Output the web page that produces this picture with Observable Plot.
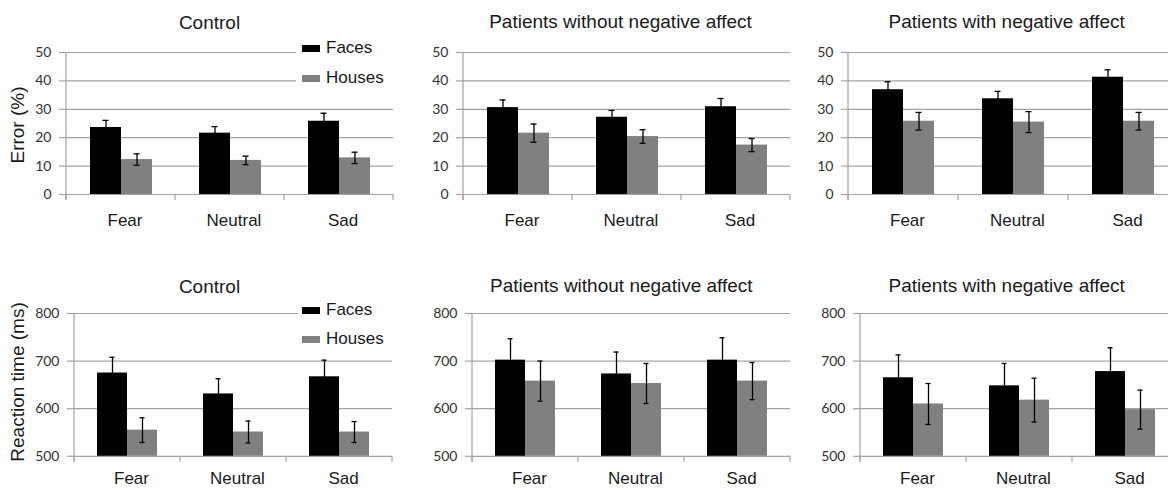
<!DOCTYPE html>
<html><head><meta charset="utf-8">
<script src="https://cdn.jsdelivr.net/npm/d3@7"></script>
<script src="https://cdn.jsdelivr.net/npm/@observablehq/plot@0.6"></script>
<style>
html,body{margin:0;padding:0;background:#fff;}
#fig{position:relative;width:1168px;height:488px;overflow:hidden;font-family:"Liberation Sans",Arial,sans-serif;color:#1a1a1a;background:#fff;}
.t{position:absolute;white-space:nowrap;line-height:1;}
.panel{position:absolute;}
.sw{position:absolute;}
</style></head><body><div id="fig"></div>
<script>
// ---- data ----
const categories = ["Fear", "Neutral", "Sad"];
const stimuli = ["Faces", "Houses"];
const groupTitles = ["Control", "Patients without negative affect", "Patients with negative affect"];
const errorTicks = [0, 10, 20, 30, 40, 50];
const rtTicks = [500, 600, 700, 800];
const errorLabel = "Error (%)";
const rtLabel = "Reaction time (ms)";

// Error rate (%) — means and standard errors
const errControlFaces = [23.6, 21.6, 25.8];
const errControlFacesSE = [2.5, 2.3, 2.8];
const errControlHouses = [12.3, 12.0, 12.9];
const errControlHousesSE = [2.0, 1.5, 2.0];
const errWithoutFaces = [30.6, 27.2, 30.9];
const errWithoutFacesSE = [2.7, 2.4, 2.9];
const errWithoutHouses = [21.6, 20.4, 17.4];
const errWithoutHousesSE = [3.2, 2.4, 2.3];
const errWithFaces = [36.9, 33.7, 41.3];
const errWithFacesSE = [2.8, 2.6, 2.6];
const errWithHouses = [25.8, 25.5, 25.8];
const errWithHousesSE = [3.1, 3.7, 3.1];

// Reaction time (ms) — means and standard errors
const rtControlFaces = [675, 631, 667];
const rtControlFacesSE = [33, 32, 35];
const rtControlHouses = [555, 551, 551];
const rtControlHousesSE = [26, 23, 22];
const rtWithoutFaces = [702, 673, 702];
const rtWithoutFacesSE = [45, 46, 47];
const rtWithoutHouses = [658, 653, 658];
const rtWithoutHousesSE = [42, 42, 39];
const rtWithFaces = [665, 648, 678];
const rtWithFacesSE = [48, 47, 50];
const rtWithHouses = [610, 618, 598];
const rtWithHousesSE = [43, 46, 41];

// ---- build ----
function rows(faces, facesSE, houses, housesSE) {
  const out = [];
  categories.forEach((c, i) => {
    out.push({cat: c, stim: stimuli[0], v: faces[i], e: facesSE[i]});
    out.push({cat: c, stim: stimuli[1], v: houses[i], e: housesSE[i]});
  });
  return out;
}
const panels = [
  {title: groupTitles[0], ticks: errorTicks, data: rows(errControlFaces, errControlFacesSE, errControlHouses, errControlHousesSE), ax: 65, right: 393, top: 52, bottom: 194, mB: 40, pad: 19, titleX: 209.5, titleY: 29.3, ylabel: errorLabel, ylabelY: 125, legend: {box: [296, 41, 100, 46], sw1: 44.5, t1: 53.5, sw2: 74.5, t2: 83.5}},
  {title: groupTitles[1], ticks: errorTicks, data: rows(errWithoutFaces, errWithoutFacesSE, errWithoutHouses, errWithoutHousesSE), ax: 462, right: 791, top: 52, bottom: 194, mB: 40, pad: 19, titleX: 620.5, titleY: 28.3},
  {title: groupTitles[2], ticks: errorTicks, data: rows(errWithFaces, errWithFacesSE, errWithHouses, errWithHousesSE), ax: 848, right: 1178, top: 52, bottom: 194, mB: 40, pad: 19, titleX: 1006.7, titleY: 28.3},
  {title: groupTitles[0], ticks: rtTicks, data: rows(rtControlFaces, rtControlFacesSE, rtControlHouses, rtControlHousesSE), ax: 74, right: 392, top: 312.5, bottom: 455.3, mB: 32.7, pad: 15.5, titleX: 209.5, titleY: 293.3, ylabel: rtLabel, ylabelY: 382, legend: {box: [298, 301, 100, 47], sw1: 307, t1: 315.5, sw2: 336, t2: 344.5}},
  {title: groupTitles[1], ticks: rtTicks, data: rows(rtWithoutFaces, rtWithoutFacesSE, rtWithoutHouses, rtWithoutHousesSE), ax: 471, right: 791, top: 312.5, bottom: 455.3, mB: 32.7, pad: 15.5, titleX: 621.3, titleY: 291.7},
  {title: groupTitles[2], ticks: rtTicks, data: rows(rtWithFaces, rtWithFacesSE, rtWithHouses, rtWithHousesSE), ax: 859, right: 1179, top: 312.5, bottom: 455.3, mB: 32.7, pad: 15.5, titleX: 1006.7, titleY: 291.7}
];

const fig = document.getElementById("fig");
const gridColor = "#a3a3a3";
const textColor = "#1a1a1a";

function addText(txt, x, baseline, size, anchor = "start", extra = {}) {
  const d = document.createElement("div");
  d.className = "t";
  d.textContent = txt;
  d.style.fontSize = size + "px";
  d.style.top = (baseline - 0.8465 * size) + "px";
  d.style.left = x + "px";
  if (anchor === "middle") d.style.transform = "translateX(-50%)";
  Object.assign(d.style, extra);
  fig.appendChild(d);
  return d;
}

panels.forEach(p => {
  const mL = 60, mR = 2, mT = 12, mB = p.mB;
  const ymin = p.ticks[0], ymax = p.ticks[p.ticks.length - 1];
  const width = p.right - p.ax + mL + mR;
  const height = (p.bottom - p.top) + mT + mB;
  const chart = Plot.plot({
    width, height,
    marginLeft: mL, marginRight: mR, marginTop: mT, marginBottom: mB,
    style: {background: "transparent", overflow: "visible"},
    x: {domain: stimuli, paddingInner: 0, paddingOuter: 0.75, axis: null},
    fx: {domain: categories, padding: 0},
    y: {domain: [ymin, ymax]},
    color: {domain: stimuli, range: ["#000000", "#808080"]},
    marks: [
      Plot.gridY(p.ticks, {stroke: gridColor, strokeOpacity: 1, strokeWidth: 1.2}),
      Plot.axisY(p.ticks, {tickSize: 7, tickPadding: 8, stroke: gridColor, strokeOpacity: 1, strokeWidth: 1.2, fontSize: 14, fontFamily: "Lato, 'Open Sans', sans-serif", fill: "#333333", label: null}),
      Plot.barY(p.data, {fx: "cat", x: "stim", y1: d => ymin, y2: "v", fill: "stim"}),
      Plot.ruleX(p.data, {fx: "cat", x: "stim", y1: d => d.v - d.e, y2: d => d.v + d.e, stroke: "#000", strokeWidth: 1.3}),
      Plot.tickY(p.data, {fx: "cat", x: "stim", y: d => d.v + d.e, stroke: "#000", strokeWidth: 1.3, inset: 12.5}),
      Plot.tickY(p.data, {fx: "cat", x: "stim", y: d => d.v - d.e, stroke: "#000", strokeWidth: 1.3, inset: 12.5}),
      Plot.axisFx({anchor: "bottom", tickSize: 0, tickPadding: p.pad, fontSize: 17, fontFamily: "'Liberation Sans', Arial, sans-serif", fill: textColor, label: null, dx: 4})
    ]
  });
  chart.classList.add("panel");
  chart.style.left = (p.ax - mL) + "px";
  chart.style.top = (p.top - mT) + "px";
  fig.appendChild(chart);

  // y-axis line and category boundary ticks, placed with the chart's own scales
  const fx = chart.scale("fx"), y = chart.scale("y");
  const svg = d3.select(chart);
  const y0 = y.apply(ymin), y1 = y.apply(ymax);
  const g = svg.append("g").attr("stroke", gridColor).attr("stroke-width", 1.2);
  const x0 = fx.apply(categories[0]);
  g.append("line").attr("x1", x0).attr("x2", x0).attr("y1", y1).attr("y2", y0 + 6);
  const bounds = categories.map(c => fx.apply(c)).concat([fx.apply(categories[categories.length - 1]) + fx.bandwidth]);
  bounds.forEach(bx => g.append("line").attr("x1", bx).attr("x2", bx).attr("y1", y0).attr("y2", y0 + 6));

  // title
  addText(p.title, p.titleX, p.titleY, 19, "middle", {color: textColor});

  // y label
  if (p.ylabel) {
    const d = document.createElement("div");
    d.className = "t";
    d.textContent = p.ylabel;
    d.style.fontSize = "19px";
    d.style.color = textColor;
    d.style.left = "16.5px";
    d.style.top = p.ylabelY + "px";
    d.style.transform = "translate(-50%, -50%) rotate(-90deg)";
    fig.appendChild(d);
  }

  // legend
  if (p.legend) {
    const L = p.legend;
    const box = document.createElement("div");
    box.className = "sw";
    Object.assign(box.style, {left: L.box[0] + "px", top: L.box[1] + "px", width: L.box[2] + "px", height: L.box[3] + "px", background: "#fff"});
    fig.appendChild(box);
    const sw = (yy, col) => {
      const s = document.createElement("div");
      s.className = "sw";
      Object.assign(s.style, {left: "302px", top: yy + "px", width: "18px", height: "7px", background: col});
      fig.appendChild(s);
    };
    sw(L.sw1, "#000000");
    sw(L.sw2, "#808080");
    addText(stimuli[0], 326, L.t1, 17, "start", {color: textColor});
    addText(stimuli[1], 326, L.t2, 17, "start", {color: textColor});
  }
});
</script>
</body></html>
